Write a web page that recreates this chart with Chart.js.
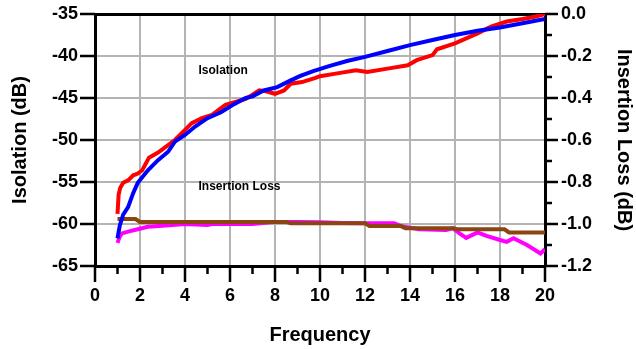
<!DOCTYPE html>
<html>
<head>
<meta charset="utf-8">
<script src="https://cdn.jsdelivr.net/npm/chart.js@4.4.1/dist/chart.umd.min.js"></script>
<style>
  html, body { margin: 0; padding: 0; background: #fff; }
  #wrap { width: 636px; height: 349px; }
</style>
</head>
<body>
<div id="wrap"><canvas id="chart"></canvas></div>
<script>
// Isolation (left axis, dB)
var blueFreq = [1.0, 1.1, 1.25, 1.47, 1.7, 1.9, 2.35, 2.8, 3.25, 3.55, 4.0, 4.45, 5.0, 5.6, 6.2, 6.7, 7.0, 7.5, 8.1, 8.7, 9.1, 9.7, 10.4, 11.2, 12.0, 13.0, 14.0, 15.0, 16.0, 17.0, 18.0, 19.0, 20.0];
var blueIso  = [-61.7, -60.2, -58.9, -58.0, -56.3, -55.1, -53.6, -52.4, -51.4, -50.2, -49.4, -48.4, -47.4, -46.7, -45.7, -45.0, -44.8, -44.1, -43.7, -42.9, -42.4, -41.8, -41.2, -40.6, -40.1, -39.4, -38.7, -38.1, -37.5, -37.0, -36.6, -36.1, -35.6];
var redFreq = [1.0, 1.05, 1.12, 1.25, 1.47, 1.7, 1.9, 2.1, 2.4, 2.8, 3.1, 3.55, 4.0, 4.3, 4.75, 5.2, 5.8, 6.2, 6.7, 7.0, 7.3, 7.6, 8.0, 8.4, 8.7, 9.2, 9.8, 10.0, 10.7, 11.6, 12.1, 13.0, 13.9, 14.3, 15.0, 15.2, 16.0, 17.0, 17.6, 18.3, 19.0, 19.6, 20.0];
var redIso  = [-58.8, -56.5, -55.7, -55.1, -54.8, -54.2, -54.0, -53.6, -52.1, -51.5, -50.9, -50.0, -48.8, -48.0, -47.4, -47.0, -45.8, -45.5, -45.1, -44.6, -44.1, -44.2, -44.5, -44.1, -43.3, -43.1, -42.6, -42.4, -42.1, -41.7, -41.9, -41.5, -41.1, -40.5, -39.9, -39.2, -38.5, -37.3, -36.5, -35.9, -35.6, -35.3, -35.0];

// Insertion loss (right axis, dB)
var magentaFreq = [1.0, 1.1, 1.2, 1.47, 1.9, 2.35, 3.0, 4.0, 5.0, 5.2, 6.0, 7.0, 7.9, 9.0, 10.0, 11.0, 12.0, 13.3, 13.6, 14.4, 15.6, 15.9, 16.2, 16.5, 17.0, 17.4, 18.0, 18.3, 18.6, 19.2, 19.8, 20.0];
var magentaIL   = [-1.09, -1.06, -1.045, -1.036, -1.025, -1.013, -1.008, -1.0, -1.005, -1.0, -1.0, -1.0, -0.99, -0.99, -0.992, -0.995, -0.997, -0.997, -1.01, -1.025, -1.028, -1.02, -1.045, -1.066, -1.04, -1.057, -1.076, -1.085, -1.068, -1.1, -1.14, -1.12];
var brownFreq = [1.0, 1.8, 2.0, 8.5, 8.7, 12.0, 12.2, 13.6, 13.8, 15.9, 16.1, 18.2, 18.4, 20.0];
var brownIL   = [-0.976, -0.976, -0.99, -0.99, -0.997, -0.997, -1.01, -1.01, -1.02, -1.02, -1.025, -1.025, -1.04, -1.04];

var FONT = '"Liberation Sans", Arial, sans-serif';

function points(xs, ys) {
    return xs.map(function(x, i) { return { x: x, y: ys[i] }; });
}

function line(data, color, axis) {
    return {
        data: data,
        yAxisID: axis,
        borderColor: color,
        borderWidth: 4,
        pointRadius: 0,
        tension: 0,
        fill: false
    };
}

// fixed box sizes so the plot area lands where the original has it
function fixBox(w, h) {
    return function(s) {
        if (w) s.width = w;
        if (h) s.height = h;
        s.paddingTop = 0; s.paddingBottom = 0;
        s.paddingLeft = 0; s.paddingRight = 0;
    };
}

// tick marks (major/minor) and the two in-plot labels
var extras = {
    id: 'extras',
    afterDraw: function(chart) {
        var ctx = chart.ctx, a = chart.chartArea;
        var sx = chart.scales.x, sy = chart.scales.y, sy2 = chart.scales.y2;
        ctx.save();
        ctx.strokeStyle = '#000';
        ctx.lineWidth = 2.5;
        ctx.beginPath();
        for (var v = 0; v <= 20; v++) {
            var px = sx.getPixelForValue(v);
            ctx.moveTo(px, a.bottom);
            ctx.lineTo(px, a.bottom + (v % 2 ? 8 : 16));
        }
        sy.ticks.forEach(function(t) {
            var py = sy.getPixelForValue(t.value);
            ctx.moveTo(a.left - 15, py);
            ctx.lineTo(a.left, py);
        });
        for (var i = 0; i <= 12; i++) {
            var py = sy2.getPixelForValue(-i / 10);
            ctx.moveTo(a.right, py);
            ctx.lineTo(a.right + (i % 2 ? 7 : 13), py);
        }
        ctx.stroke();

        ctx.fillStyle = '#000';
        ctx.font = 'bold 12px ' + FONT;
        ctx.textBaseline = 'middle';
        ctx.fillText('Isolation', sx.getPixelForValue(4.6), sy.getPixelForValue(-41.7));
        ctx.fillText('Insertion Loss', sx.getPixelForValue(4.6), sy.getPixelForValue(-55.5));
        ctx.restore();
    }
};

new Chart(document.getElementById('chart'), {
    type: 'line',
    data: {
        datasets: [
            line(points(blueFreq, blueIso), '#0000ff', 'y'),
            line(points(redFreq, redIso), '#ff0000', 'y'),
            line(points(brownFreq, brownIL), '#8b4513', 'y2'),
            line(points(magentaFreq, magentaIL), '#ff00ff', 'y2')
        ]
    },
    options: {
        responsive: true,
        maintainAspectRatio: false,
        animation: false,
        layout: { padding: { top: 14, left: 0, right: 0, bottom: 0 } },
        plugins: { legend: { display: false }, tooltip: { enabled: false } },
        scales: {
            x: {
                type: 'linear',
                min: 0, max: 20,
                afterFit: fixBox(0, 83),
                ticks: { stepSize: 2, padding: 19, color: '#000', font: { family: FONT, size: 18, weight: 'bold' } },
                grid: {
                    drawTicks: false,
                    lineWidth: 2,
                    color: function(c) { return (c.tick && (c.tick.value === 0 || c.tick.value === 20)) ? 'rgba(0,0,0,0)' : '#b4b4b4'; }
                },
                border: { color: '#000', width: 3 },
                title: { display: true, text: 'Frequency', color: '#000', padding: { bottom: 2 }, font: { family: FONT, size: 20, weight: 'bold' } }
            },
            y: {
                position: 'left',
                min: -65, max: -35,
                afterFit: fixBox(95, 0),
                ticks: { stepSize: 5, padding: 17, color: '#000', font: { family: FONT, size: 18, weight: 'bold' } },
                grid: {
                    drawTicks: false,
                    lineWidth: function(c) { return (c.tick && c.tick.value === -35) ? 3 : 2; },
                    color: function(c) {
                        if (!c.tick) return '#b4b4b4';
                        if (c.tick.value === -35) return '#000';
                        if (c.tick.value === -65) return 'rgba(0,0,0,0)';
                        return '#b4b4b4';
                    }
                },
                border: { color: '#000', width: 3 },
                title: { display: true, text: 'Isolation (dB)', color: '#000', padding: { top: 8 }, font: { family: FONT, size: 20, weight: 'bold' } }
            },
            y2: {
                position: 'right',
                min: -1.2, max: 0,
                afterFit: fixBox(91, 0),
                ticks: {
                    stepSize: 0.2, padding: 16, color: '#000',
                    font: { family: FONT, size: 18, weight: 'bold' },
                    callback: function(v) { return Number(v).toFixed(1); }
                },
                grid: { display: false, drawTicks: false },
                border: { color: '#000', width: 3 },
                title: { display: true, text: 'Insertion Loss (dB)', color: '#000', padding: { top: 0 }, font: { family: FONT, size: 20, weight: 'bold' } }
            }
        }
    },
    plugins: [extras]
});
</script>
</body>
</html>
